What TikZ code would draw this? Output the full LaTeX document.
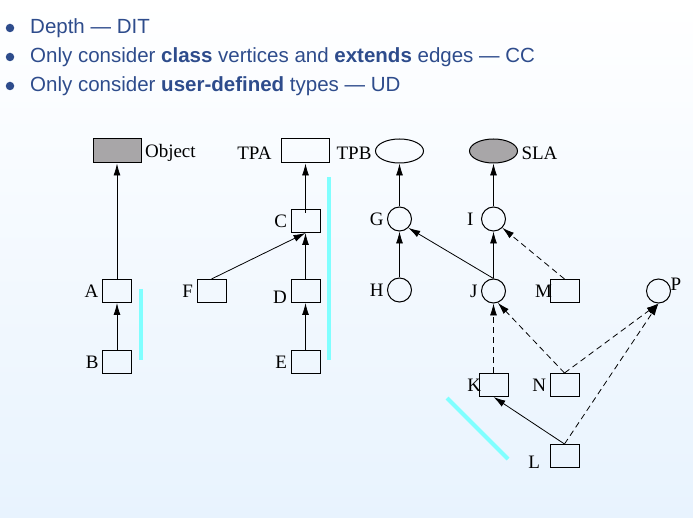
\documentclass[tikz,border=0pt]{standalone}
\usepackage{fontspec}
\setmainfont{Liberation Serif}
\setsansfont{Liberation Sans}
\usetikzlibrary{positioning, arrows.meta, shapes.geometric}
\definecolor{slideblue}{RGB}{46,76,140}
\definecolor{slidebg}{RGB}{232,243,254}
\definecolor{basegray}{RGB}{168,166,168}
\definecolor{markcyan}{RGB}{128,255,255}

\begin{document}
\begin{tikzpicture}
% style
	[on grid,
	every label/.style={font=\fontsize{19}{21}\selectfont},
	cls/.style={rectangle,draw=black,line width=1pt,inner sep=0pt,minimum width=29pt,minimum height=23pt},
	rootcls/.style={rectangle,draw=black,line width=1pt,inner sep=0pt,minimum width=48pt,minimum height=24pt},
	iface/.style={circle,draw=black,line width=1pt,inner sep=0pt,minimum size=24pt},
	rootiface/.style={ellipse,draw=black,line width=1pt,inner sep=0pt,minimum width=48pt,minimum height=24pt},
	extends/.style={-{Latex[length=12pt,width=7pt]},line width=0.8pt},
	implements/.style={-{Latex[length=12pt,width=7pt]},line width=0.8pt,dash pattern=on 6pt off 4pt},
	marker/.style={draw=markcyan,line width=4pt},
	item/.style={anchor=base west,inner sep=0pt,text=slideblue,font=\sffamily\fontsize{20.5}{24}\selectfont},
	bullet/.style={circle,fill=slideblue,inner sep=0pt,minimum size=8.5pt}]

	% background
	\shade[top color=white,bottom color=slidebg] (0,0) rectangle (693pt,-518pt);
	\useasboundingbox (0,0) rectangle (693pt,-518pt);

	% bullets
	\node [bullet] (b1) at (10pt,-28pt) {};
	\node [bullet] (b2) at (10pt,-57pt) {};
	\node [bullet] (b3) at (10pt,-86pt) {};
	\node [item] (t1) at (30pt,-34pt) {Depth --- DIT};
	\node [item] (t2) at (30pt,-63pt) {Only consider \textbf{class} vertices and \textbf{extends} edges --- CC};
	\node [item] (t3) at (30pt,-92pt) {Only consider \textbf{user-defined} types --- UD};

	% root types
	\node [rootcls, fill=basegray] (Object) at (117pt,-151pt) [label={[yshift=-2pt]right:Object}] {};
	\node [rootcls] (TPA) [right=188.5pt of Object, label={[label distance=6pt,yshift=-2pt]left:TPA}] {};
	\node [rootiface, node distance=94pt] (TPB) [right=of TPA, label={[yshift=-2pt]left:TPB}] {};
	\node [rootiface, fill=basegray, node distance=94pt] (SLA) [right=of TPB, label={[yshift=-2pt]right:SLA}] {};

	% classes
	\node [cls] (A) [below=140pt of Object, label=left:A] {};
	\node [cls] (B) [below=71pt of A, label=left:B] {};
	\node [cls] (C) [below=70pt of TPA, label=left:C] {};
	\node [cls] (D) [below=70pt of C, label={[yshift=-6pt]left:D}] {};
	\node [cls] (E) [below=71pt of D, label=left:E] {};
	\node [cls] (F) [left=94pt of D, label=left:F] {};

	% interfaces
	\node [iface] (G) [below=68pt of TPB, label=left:G] {};
	\node [iface] (H) [below=71pt of G, label=left:H] {};
	\node [iface] (I) [below=68pt of SLA, label={[label distance=4pt]left:I}] {};
	\node [iface] (J) [below=72pt of I, label=left:J] {};
	\node [cls] (M) [right=71pt of J, label={[label distance=-6pt]left:M}] {};
	\node [iface] (P) [right=94pt of M, label={[label distance=-4pt,yshift=7pt]right:P}] {};
	\node [cls] (K) [below=94pt of J, label={[label distance=-6pt]left:K}] {};
	\node [cls] (N) [right=71pt of K, label=left:N] {};
	\node [cls] (L) [below=71pt of N, label={[yshift=-6pt,label distance=6pt]left:L}] {};

	\path[extends] (A) edge (Object)
	               (B) edge (A)
	               ([yshift=-4pt]C.north) edge (TPA)
	               (F.north) edge (C.south)
	               (D) edge (C)
	               (E) edge (D)
	               (G) edge (TPB)
	               (H) edge (G)
	               (J.north) edge (G.south east)
	               (J) edge (I)
	               (I) edge (SLA)
	               (L.north) edge (K.south);
	\path[implements] (M.north) edge (I.south east)
	                  (K) edge (J)
	                  (N.north) edge (J.-70)
	                  (N.north) edge (P.south)
	                  (L.north) edge (P.south);

	% markers
	\draw[marker] (141pt,-289pt) -- (141pt,-360pt);
	\draw[marker] (329pt,-177pt) -- (329pt,-360pt);
	\draw[marker] (447pt,-398pt) -- (508pt,-459pt);
\end{tikzpicture}
\end{document}
